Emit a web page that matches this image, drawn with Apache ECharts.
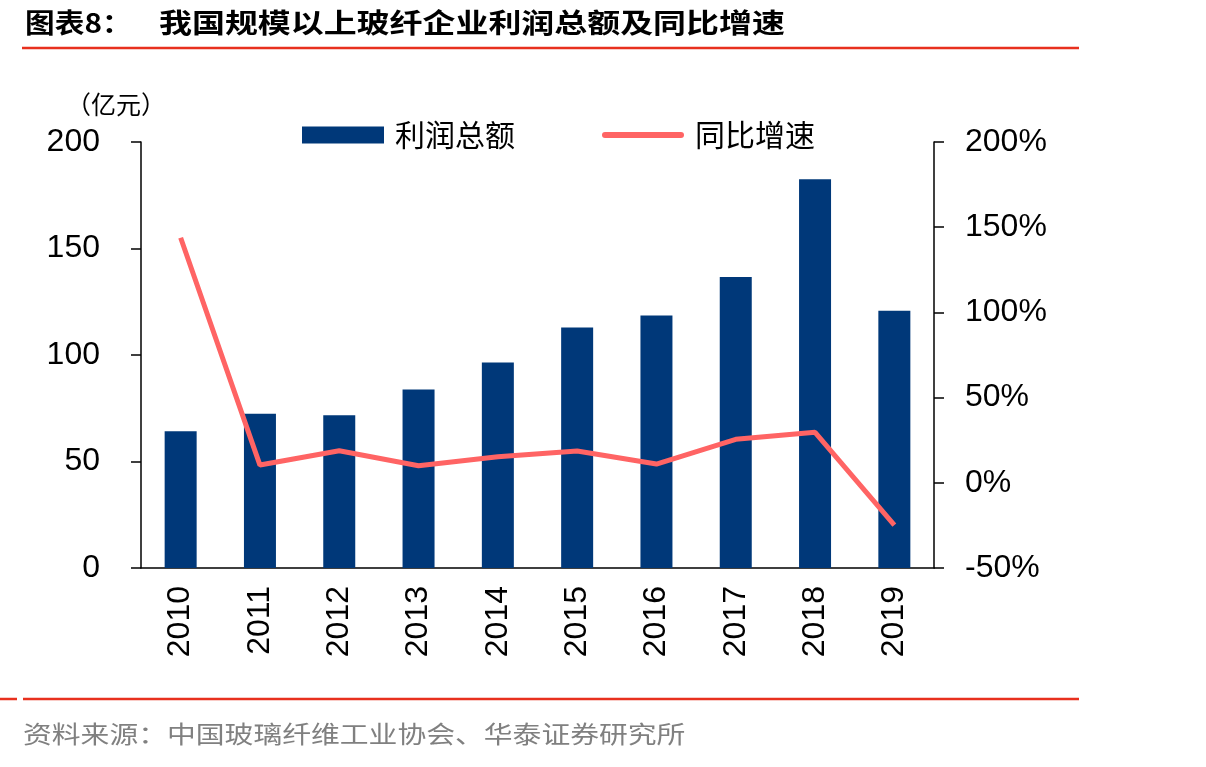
<!DOCTYPE html>
<html>
<head>
<meta charset="utf-8">
<script src="https://cdn.jsdelivr.net/npm/echarts@6/dist/echarts.min.js"></script>
<style>
  html, body { margin: 0; padding: 0; background: #fff; }
  #chart { width: 1206px; height: 767px; }
</style>
</head>
<body>
<div id="chart"></div>
<script>
// datos
const years = ['2010', '2011', '2012', '2013', '2014', '2015', '2016', '2017', '2018', '2019'];
const profit = [64.2, 72.4, 71.7, 83.8, 96.5, 112.9, 118.5, 136.6, 182.5, 120.8]; // 亿元
const growth = [143.8, 10.4, 18.8, 10.0, 15.3, 18.7, 11.0, 25.5, 29.6, -24.8]; // %

const cjk = '"Noto Sans CJK SC", sans-serif';
const num = '"Liberation Sans", Arial, sans-serif';
const red = '#E8301E';

const chart = echarts.init(document.getElementById('chart'));

chart.setOption({
  animation: false,
  backgroundColor: '#fff',
  grid: { left: 141, right: 272, top: 142, bottom: 199 },
  legend: {
    left: 297,
    top: 115,
    itemWidth: 82,
    itemHeight: 17,
    itemGap: 87,
    textStyle: { fontFamily: cjk, fontSize: 30, color: '#000', padding: [0, 0, 0, 6], width: 128 },
    data: [
      { name: '利润总额', icon: 'rect' },
      { name: '同比增速', icon: 'path://M3,0 L79,0 A3,3 0 0 1 79,6 L3,6 A3,3 0 0 1 3,0 Z' }
    ]
  },
  xAxis: {
    type: 'category',
    data: years,
    axisLine: { lineStyle: { color: '#000', width: 1.5 } },
    axisTick: { length: 10, lineStyle: { color: '#000', width: 1.5 } },
    axisLabel: { rotate: 90, fontFamily: num, fontSize: 32, color: '#000', margin: 18 }
  },
  yAxis: [
    {
      type: 'value',
      min: 0,
      max: 200,
      interval: 50,
      axisLine: { show: true, lineStyle: { color: '#000', width: 1.5 } },
      axisTick: { show: true, length: 10, lineStyle: { color: '#000', width: 1.5 } },
      axisLabel: { fontFamily: num, fontSize: 32, color: '#000', margin: 41 },
      splitLine: { show: false }
    },
    {
      type: 'value',
      min: -50,
      max: 200,
      interval: 50,
      position: 'right',
      axisLine: { show: true, lineStyle: { color: '#000', width: 1.5 } },
      axisTick: { show: true, length: 10, lineStyle: { color: '#000', width: 1.5 } },
      axisLabel: { fontFamily: num, fontSize: 32, color: '#000', margin: 31, formatter: '{value}%' },
      splitLine: { show: false }
    }
  ],
  series: [
    {
      name: '利润总额',
      type: 'bar',
      data: profit,
      barWidth: 32,
      itemStyle: { color: '#003879' }
    },
    {
      name: '同比增速',
      type: 'line',
      yAxisIndex: 1,
      data: growth,
      symbol: 'none',
      lineStyle: { color: '#FF6464', width: 5 },
      itemStyle: { color: '#FF6464' }
    }
  ],
  graphic: [
    {
      type: 'text', left: 25, top: 9,
      style: { text: '图表8：', font: 'bold 27px ' + cjk, fill: '#000' },
      scaleX: 1.1
    },
    {
      type: 'text', left: 159, top: 9,
      style: { text: '我国规模以上玻纤企业利润总额及同比增速', font: 'bold 27px ' + cjk, fill: '#000' },
      scaleX: 1.22
    },
    {
      type: 'line', shape: { x1: 22, y1: 48, x2: 1079, y2: 48 },
      style: { stroke: red, lineWidth: 2.5 }
    },
    {
      type: 'text', left: 66, top: 92,
      style: { text: '（亿元）', font: '25px ' + cjk, fill: '#000' }
    },
    {
      type: 'line', shape: { x1: 0, y1: 699, x2: 17, y2: 699 },
      style: { stroke: red, lineWidth: 2.5 }
    },
    {
      type: 'line', shape: { x1: 23, y1: 699, x2: 1079, y2: 699 },
      style: { stroke: red, lineWidth: 2.5 }
    },
    {
      type: 'text', left: 23, top: 722,
      style: { text: '资料来源：中国玻璃纤维工业协会、华泰证券研究所', font: '24px ' + cjk, fill: '#808080' },
      scaleX: 1.2
    }
  ]
});
</script>
</body>
</html>
